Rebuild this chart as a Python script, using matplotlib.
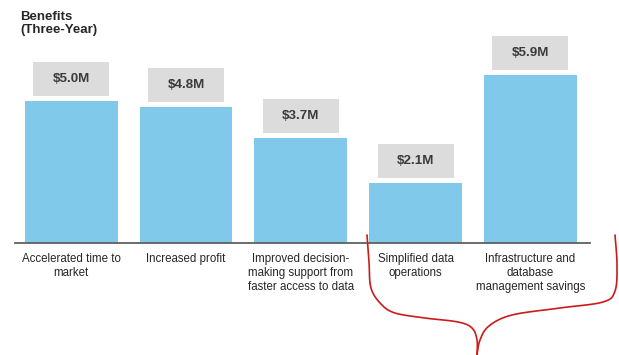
import matplotlib
matplotlib.use("Agg")
import matplotlib.pyplot as plt
from matplotlib.patches import Rectangle
import numpy as np

categories = [
    "Accelerated time to\nmarket",
    "Increased profit",
    "Improved decision-\nmaking support from\nfaster access to data",
    "Simplified data\noperations",
    "Infrastructure and\ndatabase\nmanagement savings",
]
values = [5.0, 4.8, 3.7, 2.1, 5.9]
value_labels = ["$5.0M", "$4.8M", "$3.7M", "$2.1M", "$5.9M"]
title = "Benefits\n(Three-Year)"

plt.rcParams['font.family'] = ['Liberation Sans', 'DejaVu Sans']

W, H = 619, 355
fig = plt.figure(figsize=(W / 100, H / 100), dpi=100)

ax_left, ax_right = 15, 590
ax_bottom, ax_top = 243, 43
ax = fig.add_axes([ax_left / W, 1 - ax_bottom / H,
                   (ax_right - ax_left) / W, (ax_bottom - ax_top) / H])

x = np.arange(len(values))
bar_w = 0.81
ax.bar(x, values, width=bar_w, color="#80c9ea", zorder=2)
ax.set_xlim(-0.49, 4.52)
ymax = 7.04
ax.set_ylim(0, ymax)

px_per_unit_y = (ax_bottom - ax_top) / ymax
px_per_unit_x = (ax_right - ax_left) / (4.52 + 0.49)

box_w = 76 / px_per_unit_x
box_h = 34 / px_per_unit_y
gap = 5 / px_per_unit_y
for xi, v, lab in zip(x, values, value_labels):
    ax.add_patch(Rectangle((xi - box_w / 2, v + gap), box_w, box_h,
                           facecolor="#dcdcdc", edgecolor="none", zorder=2,
                           clip_on=False))
    ax.text(xi, v + gap + box_h / 2, lab, ha="center", va="center",
            fontsize=9.6, fontweight="bold", color="#3a3a3a", zorder=3)

for s in ["top", "right", "left"]:
    ax.spines[s].set_visible(False)
ax.spines["bottom"].set_color("#606060")
ax.spines["bottom"].set_linewidth(1.3)
ax.set_yticks([])
ax.set_xticks(x)
ax.set_xticklabels(categories, fontsize=8.3, color="#262626", linespacing=1.25)
ax.tick_params(axis="x", length=0, pad=7)

fig.text(20 / W, 1 - 11 / H, title, ha="left", va="top", fontsize=9.5,
         fontweight="bold", color="#262626", linespacing=1.15)

# red hand-drawn brace annotation (decoration), smoothed
def catmull(pts, n=12):
    pts = np.array(pts, dtype=float)
    P = np.vstack([pts[0], pts, pts[-1]])
    out = []
    for i in range(1, len(P) - 2):
        p0, p1, p2, p3 = P[i - 1], P[i], P[i + 1], P[i + 2]
        for t in np.linspace(0, 1, n, endpoint=False):
            t2, t3 = t * t, t * t * t
            out.append(0.5 * ((2 * p1) + (-p0 + p2) * t +
                              (2 * p0 - 5 * p1 + 4 * p2 - p3) * t2 +
                              (-p0 + 3 * p1 - 3 * p2 + p3) * t3))
    out.append(P[-2])
    return np.array(out)

left_pts = [(367, 235), (369, 262), (371, 288), (381, 304), (395, 313),
            (425, 318), (458, 322), (472, 328), (477, 340), (477, 355)]
right_pts = [(615, 235), (617, 265), (615, 291), (603, 302), (560, 308),
             (512, 315), (489, 326), (480, 340), (477, 355)]
for pts in (left_pts, right_pts):
    c = catmull(pts)
    fig.lines.append(plt.Line2D(c[:, 0] / W, 1 - c[:, 1] / H,
                                transform=fig.transFigure,
                                color="#cc1a1a", linewidth=1.2,
                                solid_capstyle="round", solid_joinstyle="round"))

fig.savefig("out.png", dpi=100)
